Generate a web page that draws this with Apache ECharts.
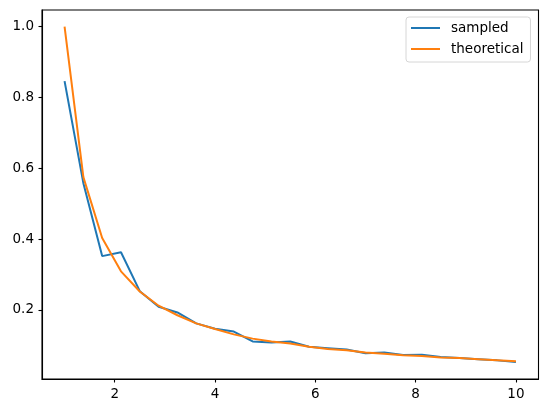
<!DOCTYPE html>
<html>
<head>
<meta charset="utf-8">
<script src="https://cdn.jsdelivr.net/npm/echarts@6/dist/echarts.min.js"></script>
<style>
html,body{margin:0;padding:0;background:#fff;}
#chart{width:547px;height:413px;}
</style>
</head>
<body>
<div id="chart"></div>
<script>
const xValues = [1, 1.375, 1.75, 2.125, 2.5, 2.875, 3.25, 3.625, 4, 4.375, 4.75, 5.125, 5.5, 5.875, 6.25, 6.625, 7, 7.375, 7.75, 8.125, 8.5, 8.875, 9.25, 9.625, 10];
const sampled = [0.846, 0.558, 0.352, 0.363, 0.253, 0.209, 0.193, 0.162, 0.147, 0.139, 0.111, 0.108, 0.111, 0.096, 0.092, 0.088, 0.078, 0.080, 0.0725, 0.0735, 0.067, 0.064, 0.061, 0.0576, 0.053];
const theoretical = [1.0, 0.575, 0.403, 0.309, 0.252, 0.212, 0.185, 0.162, 0.146, 0.131, 0.119, 0.111, 0.105, 0.096, 0.090, 0.086, 0.080, 0.076, 0.072, 0.070, 0.066, 0.064, 0.061, 0.058, 0.055];
const xTicks = [2, 4, 6, 8, 10];
const yTicks = [0.2, 0.4, 0.6, 0.8, 1.0];
const seriesNames = ['sampled', 'theoretical'];

const font = 'DejaVu Sans';
const chart = echarts.init(document.getElementById('chart'), null, {renderer: 'canvas'});
const pairs = arr => arr.map((v, i) => [xValues[i], v]);
chart.setOption({
  animation: false,
  backgroundColor: '#fff',
  grid: {left: 42, top: 10, right: 8.5, bottom: 34, show: true, borderColor: '#000', borderWidth: 1.1, backgroundColor: 'transparent'},
  xAxis: {
    type: 'value', min: 0.55, max: 10.45,
    axisLine: {show: true, lineStyle: {color: '#000', width: 1.1}},
    axisTick: {show: true, inside: false, length: 3.5, lineStyle: {color: '#000', width: 1.1}, customValues: xTicks},
    axisLabel: {color: '#000', fontFamily: font, fontSize: 13.5, margin: 8, customValues: xTicks, formatter: v => String(v)},
    splitLine: {show: false}
  },
  yAxis: {
    type: 'value', min: 0.005, max: 1.047,
    axisLine: {show: true, lineStyle: {color: '#000', width: 1.1}},
    axisTick: {show: true, inside: false, length: 3.5, lineStyle: {color: '#000', width: 1.1}, customValues: yTicks},
    axisLabel: {color: '#000', fontFamily: font, fontSize: 13.5, margin: 8, customValues: yTicks, formatter: v => v.toFixed(1)},
    splitLine: {show: false}
  },
  legend: {
    data: seriesNames,
    orient: 'vertical',
    left: 406, top: 17,
    padding: [4, 7, 6, 5],
    itemWidth: 29, itemHeight: 2, itemGap: 7,
    icon: 'rect',
    borderColor: '#d6d6d6', borderWidth: 1, borderRadius: 3,
    backgroundColor: 'rgba(255,255,255,0.8)',
    textStyle: {color: '#000', fontFamily: font, fontSize: 13.5, padding: [0, 0, 0, 6]}
  },
  series: [
    {name: seriesNames[0], type: 'line', data: pairs(sampled), showSymbol: false, symbol: 'none', color: '#1f77b4', lineStyle: {width: 2, color: '#1f77b4'}, z: 2},
    {name: seriesNames[1], type: 'line', data: pairs(theoretical), showSymbol: false, symbol: 'none', color: '#ff7f0e', lineStyle: {width: 2, color: '#ff7f0e'}, z: 3}
  ]
});
</script>
</body>
</html>
